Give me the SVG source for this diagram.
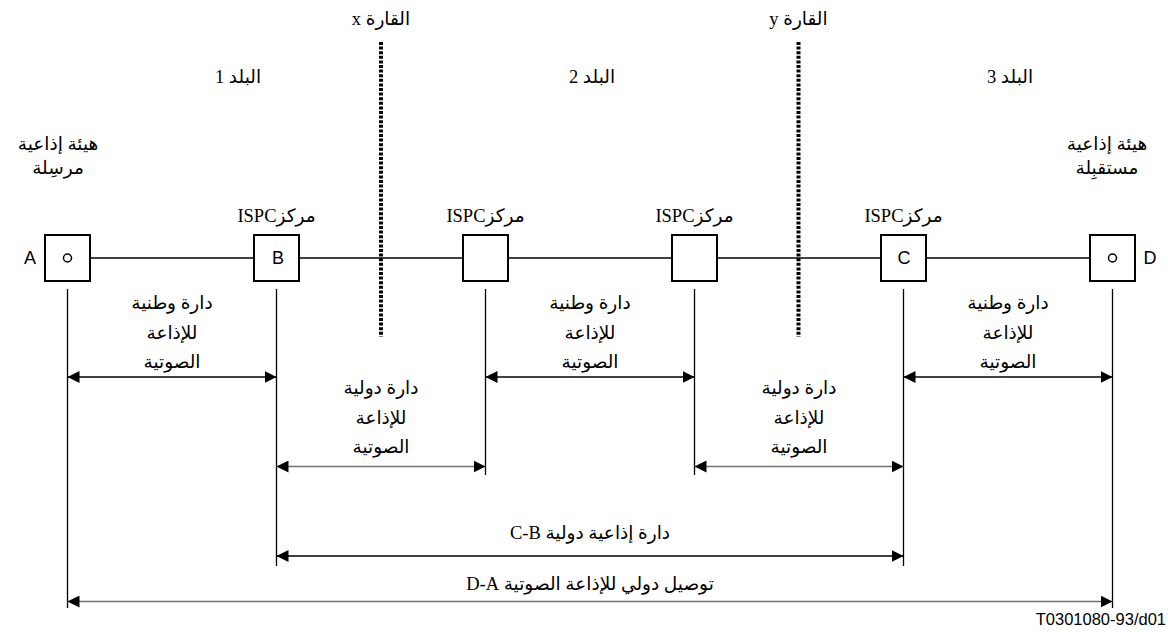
<svg xmlns="http://www.w3.org/2000/svg" width="1168" height="632" viewBox="0 0 1168 632">
<style>
.t{font-family:"Liberation Serif","DejaVu Sans",serif;font-size:18.5px;fill:#000;text-anchor:middle}
.s{font-family:"Liberation Sans",Arial,sans-serif;fill:#000;text-anchor:middle}
.box{fill:#fff;stroke:#000;stroke-width:2}
.v{stroke:#000;stroke-width:1.3;fill:none}
.ab{stroke:#000;stroke-width:1.3;fill:none;marker-start:url(#ah);marker-end:url(#ah)}
.ag{stroke:#707070;stroke-width:1.6;fill:none;marker-start:url(#ah);marker-end:url(#ah)}
.dot{stroke:#000;stroke-width:4;stroke-dasharray:3 1.6;fill:none}
</style>
<defs>
<marker id="ah" markerUnits="userSpaceOnUse" markerWidth="13" markerHeight="12" refX="12" refY="6" orient="auto-start-reverse" viewBox="0 0 13 12">
<path d="M0,0 L12,6 L0,12 Z" fill="#000"/>
</marker>
</defs>
<g id="borders">
<line class="dot" x1="381" y1="42" x2="381" y2="337"/>
<line class="dot" x1="798.5" y1="42" x2="798.5" y2="337"/>
<text class="t" x="381" y="25" direction="rtl">القارة x</text>
<text class="t" x="798.5" y="25" direction="rtl">القارة y</text>
</g>
<g id="countries">
<text class="t" x="238" y="83" direction="rtl">البلد 1</text>
<text class="t" x="592" y="83" direction="rtl">البلد 2</text>
<text class="t" x="1010" y="83" direction="rtl">البلد 3</text>
</g>
<g id="connectors">
<line class="v" x1="67.5" y1="258" x2="1112.5" y2="258" style="stroke-width:1.5"/>
<line class="v" x1="67.5" y1="289" x2="67.5" y2="608"/>
<line class="v" x1="276.5" y1="289" x2="276.5" y2="566"/>
<line class="v" x1="485.5" y1="289" x2="485.5" y2="475"/>
<line class="v" x1="694.5" y1="289" x2="694.5" y2="475"/>
<line class="v" x1="903.5" y1="289" x2="903.5" y2="566"/>
<line class="v" x1="1112.5" y1="289" x2="1112.5" y2="608"/>
<line class="ab" x1="67.5" y1="377" x2="276.5" y2="377"/>
<line class="ab" x1="485.5" y1="377" x2="694.5" y2="377"/>
<line class="ab" x1="903.5" y1="377" x2="1112.5" y2="377"/>
<line class="ag" x1="276.5" y1="466.5" x2="485.5" y2="466.5"/>
<line class="ag" x1="694.5" y1="466.5" x2="903.5" y2="466.5"/>
<line class="ab" x1="276.5" y1="556" x2="903.5" y2="556"/>
<line class="ag" x1="67.5" y1="601.5" x2="1112.5" y2="601.5"/>
</g>
<g id="nodeA">
<rect class="box" x="45" y="235" width="45" height="46"/>
<circle cx="67.5" cy="258" r="4" fill="#fff" stroke="#000" stroke-width="1.5"/>
<text class="s" x="30" y="264" font-size="18">A</text>
<text class="t" x="58" y="150" direction="rtl">هيئة إذاعية</text>
<text class="t" x="58" y="174" direction="rtl">مرسِلة</text>
</g>
<g id="nodeB">
<rect class="box" x="254" y="235" width="45" height="46"/>
<text class="s" x="278" y="264" font-size="18">B</text>
<text class="t" x="276.5" y="222" direction="rtl">مركزISPC</text>
</g>
<g id="node3">
<rect class="box" x="463" y="235" width="45" height="46"/>
<text class="t" x="485.5" y="222" direction="rtl">مركزISPC</text>
</g>
<g id="node4">
<rect class="box" x="672" y="235" width="45" height="46"/>
<text class="t" x="694.5" y="222" direction="rtl">مركزISPC</text>
</g>
<g id="nodeC">
<rect class="box" x="881" y="235" width="45" height="46"/>
<text class="s" x="904" y="264" font-size="18">C</text>
<text class="t" x="903.5" y="222" direction="rtl">مركزISPC</text>
</g>
<g id="nodeD">
<rect class="box" x="1090" y="235" width="45" height="46"/>
<circle cx="1112.5" cy="258" r="4" fill="#fff" stroke="#000" stroke-width="1.5"/>
<text class="s" x="1150" y="264" font-size="18">D</text>
<text class="t" x="1107" y="150" direction="rtl">هيئة إذاعية</text>
<text class="t" x="1107" y="174" direction="rtl">مستقبِلة</text>
</g>
<g id="labels">
<text class="t" x="172" y="309" direction="rtl">دارة وطنية</text>
<text class="t" x="172" y="339" direction="rtl">للإذاعة</text>
<text class="t" x="172" y="368" direction="rtl">الصوتية</text>
<text class="t" x="590" y="309" direction="rtl">دارة وطنية</text>
<text class="t" x="590" y="339" direction="rtl">للإذاعة</text>
<text class="t" x="590" y="368" direction="rtl">الصوتية</text>
<text class="t" x="1008" y="309" direction="rtl">دارة وطنية</text>
<text class="t" x="1008" y="339" direction="rtl">للإذاعة</text>
<text class="t" x="1008" y="368" direction="rtl">الصوتية</text>
<text class="t" x="381" y="394" direction="rtl">دارة دولية</text>
<text class="t" x="381" y="424" direction="rtl">للإذاعة</text>
<text class="t" x="381" y="453" direction="rtl">الصوتية</text>
<text class="t" x="799" y="394" direction="rtl">دارة دولية</text>
<text class="t" x="799" y="424" direction="rtl">للإذاعة</text>
<text class="t" x="799" y="453" direction="rtl">الصوتية</text>
<text class="t" x="590" y="539" direction="rtl">دارة إذاعية دولية C-B</text>
<text class="t" x="590" y="590" direction="rtl">توصيل دولي للإذاعة الصوتية D-A</text>
<text class="s" x="1166" y="625" font-size="16.5" style="text-anchor:end">T0301080-93/d01</text>
</g>
</svg>
